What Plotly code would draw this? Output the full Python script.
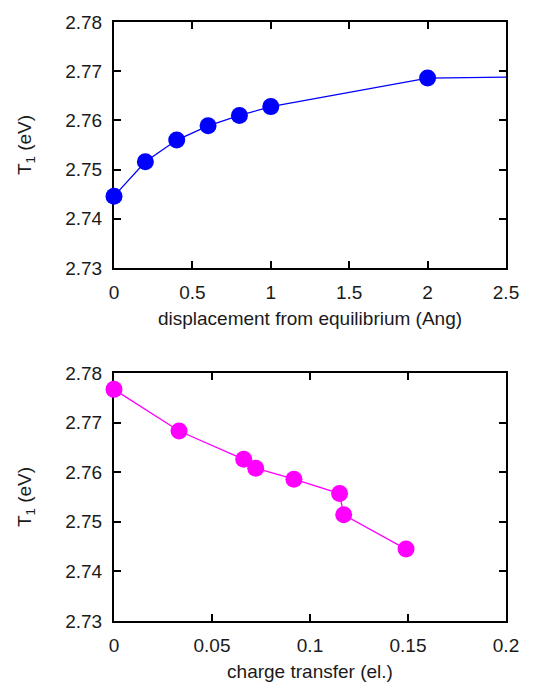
import plotly.graph_objects as go
from plotly.subplots import make_subplots

# Top panel: T1 vs displacement
disp = [0.0, 0.2, 0.4, 0.6, 0.8, 1.0, 2.0, 3.0]
t1_disp = [2.7446, 2.7516, 2.7560, 2.7589, 2.7610, 2.7628, 2.7686, 2.7690]

# Bottom panel: T1 vs charge transfer
charge = [0.0, 0.0332, 0.0662, 0.0723, 0.0918, 0.1151, 0.1172, 0.1490]
t1_charge = [2.7767, 2.7683, 2.7626, 2.7608, 2.7586, 2.7557, 2.7514, 2.7445]

yticks = [2.73, 2.74, 2.75, 2.76, 2.77, 2.78]

BLUE = "#0000ff"
MAG = "#ff00ff"
FONT = "Liberation Sans, Arial, sans-serif"
FS = 19

W, H = 537, 682
ml, mr, mt, mb = 114, 31, 22, 61
ph = H - mt - mb
top_lo = (H - mb - 268) / ph
bot_hi = (H - mb - 373) / ph

fig = make_subplots(rows=2, cols=1)

vis = [i for i, v in enumerate(disp) if v <= 2.5]
fig.add_trace(go.Scatter(x=disp, y=t1_disp, mode="lines",
                         line=dict(color=BLUE, width=1.3), showlegend=False), row=1, col=1)
fig.add_trace(go.Scatter(x=[disp[i] for i in vis], y=[t1_disp[i] for i in vis], mode="markers",
                         marker=dict(color=BLUE, size=17), cliponaxis=False, showlegend=False), row=1, col=1)

fig.add_trace(go.Scatter(x=charge, y=t1_charge, mode="lines+markers",
                         line=dict(color=MAG, width=1.3), marker=dict(color=MAG, size=17),
                         cliponaxis=False, showlegend=False), row=2, col=1)

axcommon = dict(showline=True, linecolor="black", linewidth=2, mirror="ticks",
                ticks="inside", ticklen=7, tickwidth=1.5, tickcolor="black",
                showgrid=False, zeroline=False, layer="below traces", automargin=False,
                tickfont=dict(family=FONT, size=FS, color="#1a1a1a"),
                title_font=dict(family=FONT, size=FS, color="#1a1a1a"))

fig.update_xaxes(**axcommon)
fig.update_yaxes(**axcommon)

fig.update_xaxes(range=[0, 2.5], tickvals=[0, 0.5, 1, 1.5, 2, 2.5],
                 ticktext=["0", "0.5", "1", "1.5", "2", "2.5"],
                 title_text="displacement from equilibrium (Ang)", title_standoff=10,
                 ticklabelstandoff=6, row=1, col=1)
fig.update_xaxes(range=[0, 0.2], tickvals=[0, 0.05, 0.1, 0.15, 0.2],
                 ticktext=["0", "0.05", "0.1", "0.15", "0.2"],
                 title_text="charge transfer (el.)", title_standoff=12,
                 ticklabelstandoff=6, row=2, col=1)
for r in (1, 2):
    fig.update_yaxes(range=[2.73, 2.78], tickvals=yticks,
                     ticktext=[f"{v:.2f}" for v in yticks],
                     title_text="T<sub>1</sub> (eV)", title_standoff=29,
                     ticklabelstandoff=6, row=r, col=1)

fig.update_layout(
    width=W, height=H,
    margin=dict(l=ml, r=mr, t=mt, b=mb),
    plot_bgcolor="white", paper_bgcolor="white",
    yaxis=dict(domain=[top_lo, 1]),
    yaxis2=dict(domain=[0, bot_hi]),
)

fig.write_html("out.html")
